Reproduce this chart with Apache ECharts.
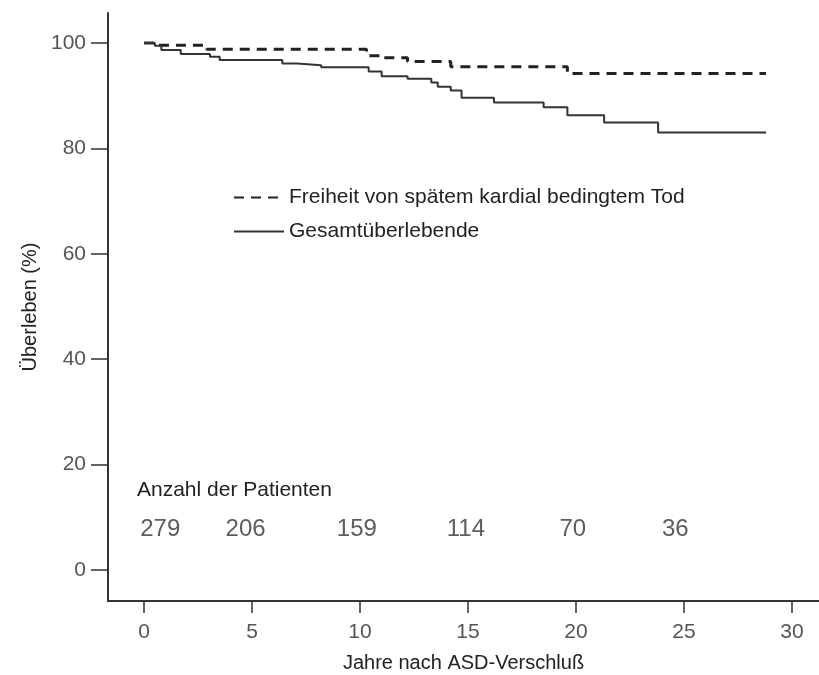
<!DOCTYPE html>
<html>
<head>
<meta charset="utf-8">
<script src="https://cdn.jsdelivr.net/npm/echarts@6/dist/echarts.min.js"></script>
<style>html,body{margin:0;padding:0;background:#fff;}#c{width:819px;height:675px;}</style>
</head>
<body>
<div id="c"></div>
<script>
// Kaplan-Meier steps: [year, survival %] (value holds from that year on)
const cardiacFree = [[0,100],[0.6,99.6],[2.9,98.8],[10.3,97.6],[11.0,97.2],[12.2,96.5],[14.2,95.5],[19.6,94.2],[28.8,94.2]];
const overall = [[0,100],[0.5,99.5],[0.8,98.7],[1.7,97.9],[3.05,97.4],[3.5,96.8],[6.4,96.1],[7.1,95.8],[8.2,95.4],[10.4,94.6],[11.0,93.7],[12.2,93.2],[13.3,92.5],[13.6,91.7],[14.2,91.0],[14.7,89.6],[16.2,88.7],[18.5,87.8],[19.6,86.3],[21.3,84.9],[23.8,83.0],[28.8,83.0]];
const xTicks = [0,5,10,15,20,25,30];
const yTicks = [0,20,40,60,80,100];
const riskYears = [0.75,4.7,9.85,14.9,19.85,24.6];
const riskCounts = [279,206,159,114,70,36];
const riskLevel = 7.6;
const seriesNames = ['Freiheit von spätem kardial bedingtem Tod','Gesamtüberlebende'];

const chart = echarts.init(document.getElementById('c'));
const font = 'Liberation Sans, Arial, sans-serif';
chart.setOption({
  animation: false,
  backgroundColor: '#fff',
  title: {
    text: 'Anzahl der Patienten', left: 132, top: 475,
    textStyle: {fontFamily: font, fontSize: 21, fontWeight: 'normal', color: '#222'}
  },
  legend: {
    orient: 'vertical', left: 228, top: 182, itemWidth: 50, itemHeight: 14, itemGap: 13,
    data: seriesNames,
    itemStyle: {opacity: 0},
    textStyle: {fontFamily: font, fontSize: 21, color: '#222'}
  },
  grid: {left: 108, right: 0, top: 13, bottom: 74, outerBoundsMode: 'none', containLabel: false},
  xAxis: {
    type: 'value', min: -1.67, max: 31.25,
    name: 'Jahre nach ASD-Verschluß', nameLocation: 'middle', nameGap: 52,
    nameTextStyle: {fontFamily: font, fontSize: 20, color: '#222'},
    axisLine: {show: true, onZero: false, lineStyle: {color: '#333', width: 2}},
    axisTick: {show: true, length: 12, customValues: xTicks, lineStyle: {color: '#333', width: 1.5}},
    axisLabel: {customValues: xTicks, margin: 21, fontFamily: font, fontSize: 21, color: '#555'},
    splitLine: {show: false}
  },
  yAxis: {
    type: 'value', min: -5.9, max: 105.7,
    name: 'Überleben (%)', nameLocation: 'middle', nameGap: 68,
    nameTextStyle: {fontFamily: font, fontSize: 20, color: '#222'},
    axisLine: {show: true, onZero: false, lineStyle: {color: '#333', width: 2}},
    axisTick: {show: true, length: 17, customValues: yTicks, lineStyle: {color: '#333', width: 1.5}},
    axisLabel: {customValues: yTicks, margin: 22, fontFamily: font, fontSize: 21, color: '#555'},
    splitLine: {show: false}
  },
  series: [
    {
      name: seriesNames[0], type: 'line', step: 'end', symbol: 'none',
      data: cardiacFree,
      lineStyle: {color: '#222', width: 3, type: [10, 7]},
      itemStyle: {color: '#222'}
    },
    {
      name: seriesNames[1], type: 'line', step: 'end', symbol: 'none',
      data: overall,
      lineStyle: {color: '#333', width: 2},
      itemStyle: {color: '#333'}
    },
    {
      type: 'scatter', symbolSize: 1, silent: true,
      itemStyle: {color: 'rgba(0,0,0,0)'},
      data: riskYears.map((x, i) => [x, riskLevel, riskCounts[i]]),
      label: {show: true, position: 'inside', formatter: p => String(p.value[2]),
        fontFamily: font, fontSize: 24, color: '#333'}
    }
  ]
});
</script>
</body>
</html>
